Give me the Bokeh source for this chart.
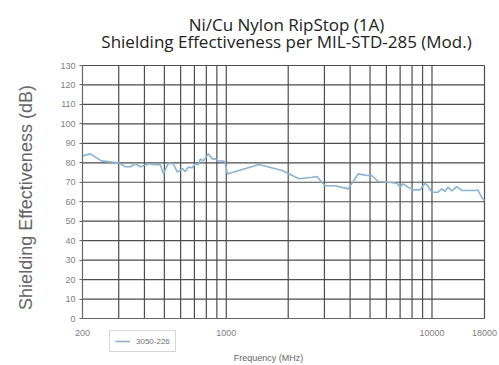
import math
from bokeh.plotting import figure
from bokeh.models import (FixedTicker, Range1d, Legend, LegendItem, Label,
                          ColumnDataSource, CustomJSTickFormatter)
from bokeh.embed import file_html
from bokeh.resources import INLINE

title_lines = ["Ni/Cu Nylon RipStop (1A)",
               "Shielding Effectiveness per MIL-STD-285 (Mod.)"]
x_title = "Frequency (MHz)"
y_title = "Shielding Effectiveness (dB)"
series_name = "3050-226"

freq_mhz = [200, 218, 247, 299, 323, 342, 362, 382, 418, 452, 478, 495, 523, 553,
            578, 612, 632, 654, 684, 707, 732, 748, 774, 818, 855, 884, 915, 967,
            989, 1011, 1441, 1870, 2254, 2616, 2757, 2914, 3024, 3381, 3912, 4230,
            4374, 4821, 5098, 5470, 6116, 6743, 6996, 7234, 7648, 8090, 8748, 9248,
            9566, 9970, 10696, 11149, 11566, 11962, 12468, 13183, 13937, 16172,
            16722, 17430, 18000]
se_db = [83.5, 84.6, 81.0, 80.0, 78.0, 78.0, 79.5, 78.0, 79.5, 79.0, 79.0, 74.3,
         79.8, 79.5, 75.2, 77.0, 75.5, 77.8, 77.5, 79.5, 79.0, 82.0, 81.0, 84.6,
         82.0, 82.0, 80.9, 80.9, 80.3, 74.3, 79.1, 76.0, 71.8, 72.6, 73.0, 70.0,
         68.3, 68.2, 66.6, 71.8, 74.3, 73.5, 73.5, 70.4, 70.0, 69.5, 67.5, 69.2,
         67.5, 66.1, 66.1, 69.5, 68.0, 64.9, 64.9, 66.6, 65.3, 67.5, 65.5, 67.8,
         65.8, 65.8, 66.0, 62.3, 60.6]

x_tick_labels = [200, 1000, 10000, 18000]
x_grid_freqs = [300, 400, 500, 600, 700, 800, 900, 1000,
                2000, 3000, 4000, 5000, 6000, 7000, 8000, 9000, 10000]
y_ticks = list(range(0, 131, 10))

# The frame covers the whole canvas; the plot box (200..18000 MHz, 0..130 dB)
# is placed at these pixel positions and the axes are fixed on its edges.
W, H = 499, 365
BOX_L, BOX_R, BOX_T, BOX_B = 82, 484, 65, 318
x0, x1 = x_tick_labels[0], x_tick_labels[-1]
y0, y1 = y_ticks[0], y_ticks[-1]
dec_px = (BOX_R - BOX_L) / math.log10(x1 / x0)
x_start = x0 * 10 ** (-BOX_L / dec_px)
x_end = x1 * 10 ** ((W - BOX_R) / dec_px)
db_px = (BOX_B - BOX_T) / (y1 - y0)
y_start = y0 - (H - BOX_B) / db_px
y_end = y1 + BOX_T / db_px

p = figure(width=W, height=H, x_axis_type="log", output_backend="svg",
           toolbar_location=None, x_range=Range1d(x_start, x_end),
           y_range=Range1d(y_start, y_end), title=None)
p.min_border_left = 0
p.min_border_right = 0
p.min_border_top = 0
p.min_border_bottom = 0
p.background_fill_color = "white"
p.border_fill_color = "white"
p.outline_line_color = None

grid_col = "#4d4d4d"
p.xgrid.visible = False
p.ygrid.visible = False
# horizontal grid lines
p.segment(x0=[x0] * len(y_ticks), y0=y_ticks, x1=[x1] * len(y_ticks), y1=y_ticks,
          line_color=grid_col, line_width=1.2)
# vertical grid lines and right border
vx = x_grid_freqs + [x1]
p.segment(x0=vx, y0=[y0] * len(vx), x1=vx, y1=[y1] * len(vx),
          line_color=grid_col, line_width=1.2)

src = ColumnDataSource(dict(f=freq_mhz, se=se_db))
r = p.line("f", "se", source=src, line_color="#8ab3d3", line_width=1.6)

# x axis fixed at 0 dB
xa = p.xaxis[0]
xa.fixed_location = y0
xa.bounds = (x0, x1)
xa.ticker = FixedTicker(ticks=x_tick_labels)
xa.formatter = CustomJSTickFormatter(code="return String(tick);")
xa.major_tick_line_color = None
xa.major_tick_out = 0
xa.major_tick_in = 0
xa.minor_tick_line_color = None
xa.axis_line_color = "#666666"
xa.axis_line_width = 1.2
xa.major_label_text_font = "Liberation Sans"
xa.major_label_text_font_size = "9px"
xa.major_label_text_color = "#808080"
xa.major_label_standoff = 11

# y axis fixed at 200 MHz
ya = p.yaxis[0]
ya.fixed_location = x0
ya.bounds = (y0, y1)
ya.ticker = FixedTicker(ticks=y_ticks)
ya.minor_tick_line_color = None
ya.major_tick_out = 3
ya.major_tick_in = 0
ya.major_tick_line_color = "#666666"
ya.axis_line_color = "#666666"
ya.axis_line_width = 1.2
ya.major_label_text_font = "Liberation Sans"
ya.major_label_text_font_size = "9px"
ya.major_label_text_color = "#808080"
ya.major_label_standoff = 4

# axis titles and chart title (screen units: from left, from bottom)
p.add_layout(Label(x=25, y=H - 197, x_units="screen", y_units="screen",
                   text=y_title, angle=math.pi / 2, text_align="center",
                   text_baseline="middle", text_font="Liberation Sans",
                   text_font_size="18px", text_color="#666666"))
p.add_layout(Label(x=268, y=H - 357, x_units="screen", y_units="screen",
                   text=x_title, text_align="center", text_baseline="middle",
                   text_font="Liberation Sans", text_font_size="9px",
                   text_color="#666666"))
for txt, py in zip(title_lines, [24, 41]):
    p.add_layout(Label(x=286, y=H - py, x_units="screen", y_units="screen",
                       text=txt, text_align="center", text_baseline="middle",
                       text_font="Open Sans", text_font_size="17px",
                       text_color="#222222"))

legend = Legend(items=[LegendItem(label=series_name, renderers=[r])],
                location=(109, H - 352))
legend.label_text_font = "Liberation Sans"
legend.label_text_font_size = "8px"
legend.label_text_color = "#707070"
legend.glyph_width = 15
legend.glyph_height = 10
legend.padding = 5
legend.margin = 0
legend.spacing = 0
legend.label_standoff = 6
legend.label_height = 10
legend.border_line_color = "#b0b0b0"
legend.border_line_width = 1
legend.background_fill_alpha = 1
p.add_layout(legend, "center")

open("out.html", "w").write(file_html(p, INLINE))
